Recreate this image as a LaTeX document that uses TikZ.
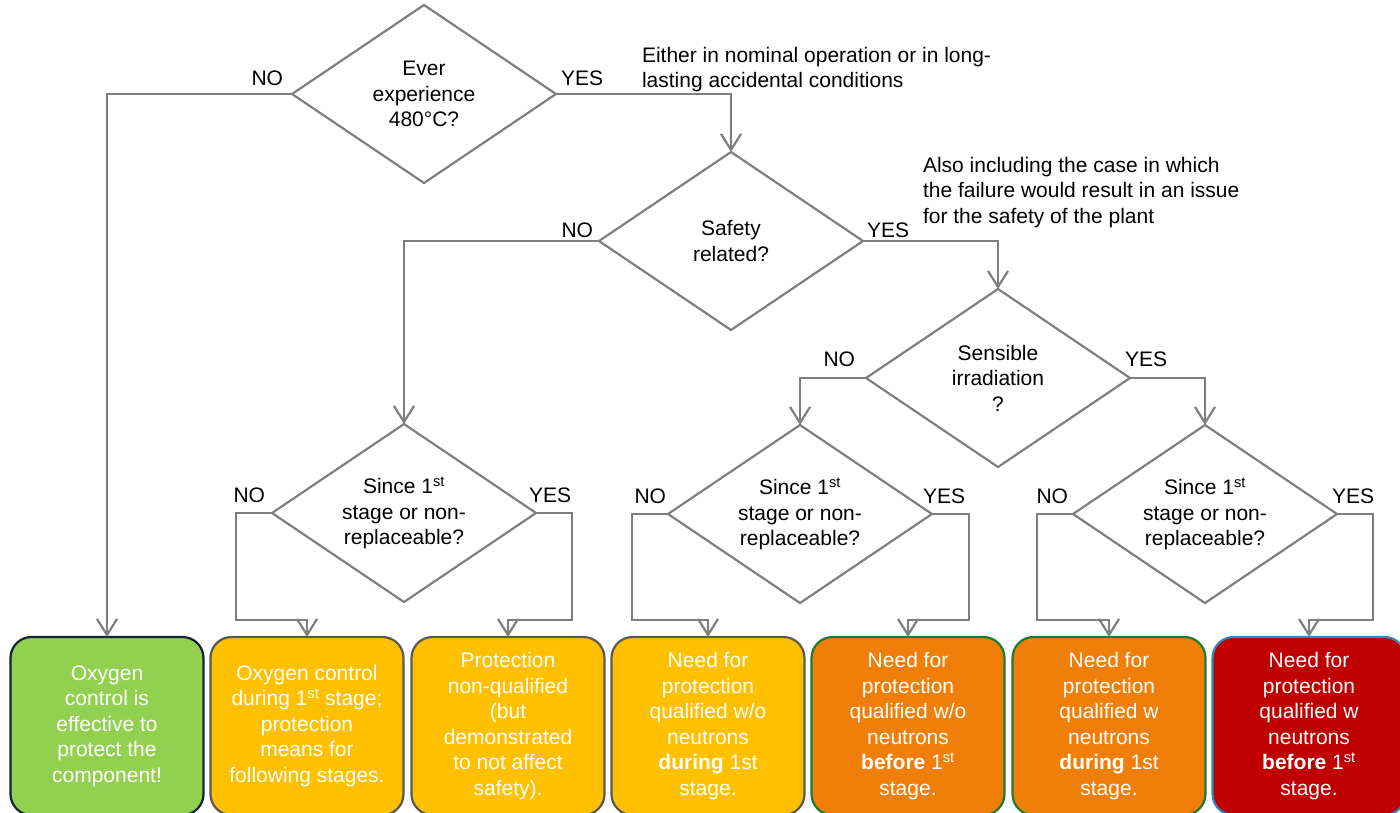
\documentclass[tikz,border=0pt]{standalone}
\usepackage{fontspec}
\setmainfont{Liberation Sans}
\usetikzlibrary{shapes.geometric,arrows.meta,calc}

\definecolor{linegray}{HTML}{7F7F7F}
\definecolor{okgreen}{HTML}{92D050}
\definecolor{navyedge}{HTML}{14213D}
\definecolor{amber}{HTML}{FFC000}
\definecolor{grayedge}{HTML}{595959}
\definecolor{orangefill}{HTML}{F07F09}
\definecolor{greenedge}{HTML}{1E7B34}
\definecolor{redfill}{HTML}{C00000}
\definecolor{blueedge}{HTML}{2F86C3}

\begin{document}
\begin{tikzpicture}[x=1pt,y=-1pt,
  every node/.style={inner sep=0pt,outer sep=0pt},
  txt/.style={font=\fontsize{21}{25.5}\selectfont,align=center},
  lbl/.style={font=\fontsize{21}{24}\selectfont},
  note/.style={font=\fontsize{21}{25.5}\selectfont,align=left,anchor=north west},
  decision/.style={diamond,draw=linegray,line width=2.2pt,
    minimum width=264pt,minimum height=178pt,aspect=1.48,txt},
  outcome/.style={rectangle,rounded corners=21pt,line width=2.2pt,
    minimum width=193pt,minimum height=178pt,text=white,txt},
  flow/.style={draw=linegray,line width=2.2pt,
    -{Straight Barb[length=16pt,width=20pt]}}
]
\clip (0,0) rectangle (1400,812);
\fill[white] (0,0) rectangle (1400,812);

% decisions
\node[decision] (d1) at (424,94) {Ever\\experience\\480°C?};
\node[decision] (d2) at (731,241) {Safety\\related?};
\node[decision] (d3) at (998,378) {Sensible\\irradiation\\?};
\node[decision] (q1) at (404,513) {Since 1\textsuperscript{st}\\stage or non-\\replaceable?};
\node[decision] (q2) at (800,514) {Since 1\textsuperscript{st}\\stage or non-\\replaceable?};
\node[decision] (q3) at (1205,514) {Since 1\textsuperscript{st}\\stage or non-\\replaceable?};

% outcomes
\node[outcome,fill=okgreen,draw=navyedge] (b1) at (107,726)
  {Oxygen\\control is\\effective to\\protect the\\component!};
\node[outcome,fill=amber,draw=grayedge] (b2) at (307,726)
  {Oxygen control\\during 1\textsuperscript{st} stage;\\protection\\means for\\following stages.};
\node[outcome,fill=amber,draw=grayedge] (b3) at (508,726)
  {Protection\\non-qualified\\(but\\demonstrated\\to not affect\\safety).};
\node[outcome,fill=amber,draw=grayedge] (b4) at (708,726)
  {Need for\\protection\\qualified w/o\\neutrons\\\textbf{during} 1st\\stage.};
\node[outcome,fill=orangefill,draw=greenedge] (b5) at (908,726)
  {Need for\\protection\\qualified w/o\\neutrons\\\textbf{before} 1\textsuperscript{st}\\stage.};
\node[outcome,fill=orangefill,draw=greenedge] (b6) at (1109,726)
  {Need for\\protection\\qualified w\\neutrons\\\textbf{during} 1st\\stage.};
\node[outcome,fill=redfill,draw=blueedge] (b7) at (1309,726)
  {Need for\\protection\\qualified w\\neutrons\\\textbf{before} 1\textsuperscript{st}\\stage.};

% connectors
\draw[flow] (d1.west) -| (b1.north);
\draw[flow] (d1.east) -| (d2.north);
\draw[flow] (d2.west) -| (q1.north);
\draw[flow] (d2.east) -| (d3.north);
\draw[flow] (d3.west) -| (q2.north);
\draw[flow] (d3.east) -| (q3.north);
\draw[flow] (q1.west) -- ++(-36,0) |- ($(b2.north)+(0,-17)$) -- (b2.north);
\draw[flow] (q1.east) -- ++(36,0) |- ($(b3.north)+(0,-17)$) -- (b3.north);
\draw[flow] (q2.west) -- ++(-36,0) |- ($(b4.north)+(0,-17)$) -- (b4.north);
\draw[flow] (q2.east) -- ++(37,0) |- ($(b5.north)+(0,-17)$) -- (b5.north);
\draw[flow] (q3.west) -- ++(-36,0) |- ($(b6.north)+(0,-17)$) -- (b6.north);
\draw[flow] (q3.east) -- ++(36,0) |- ($(b7.north)+(0,-17)$) -- (b7.north);

% branch labels
\node[lbl,anchor=base east] (d1no)  at ($(d1.west)+(-9,-9)$) {NO};
\node[lbl,anchor=base west] (d1yes) at ($(d1.east)+(5,-9)$) {YES};
\node[lbl,anchor=base east] (d2no)  at ($(d2.west)+(-6,-4)$) {NO};
\node[lbl,anchor=base west] (d2yes) at ($(d2.east)+(4,-4)$) {YES};
\node[lbl,anchor=base east] (d3no)  at ($(d3.west)+(-11,-12)$) {NO};
\node[lbl,anchor=base west] (d3yes) at ($(d3.east)+(-5,-12)$) {YES};
\node[lbl,anchor=base east] (q1no)  at ($(q1.west)+(-7,-11)$) {NO};
\node[lbl,anchor=base west] (q1yes) at ($(q1.east)+(-7,-11)$) {YES};
\node[lbl,anchor=base east] (q2no)  at ($(q2.west)+(-2,-11)$) {NO};
\node[lbl,anchor=base west] (q2yes) at ($(q2.east)+(-9,-11)$) {YES};
\node[lbl,anchor=base east] (q3no)  at ($(q3.west)+(-5,-11)$) {NO};
\node[lbl,anchor=base west] (q3yes) at ($(q3.east)+(-5,-11)$) {YES};

% side notes
\node[note] (n1) at (642,47) {Either in nominal operation or in long-\\lasting accidental conditions};
\node[note] (n2) at (923,157) {Also including the case in which\\the failure would result in an issue\\for the safety of the plant};
\end{tikzpicture}
\end{document}
